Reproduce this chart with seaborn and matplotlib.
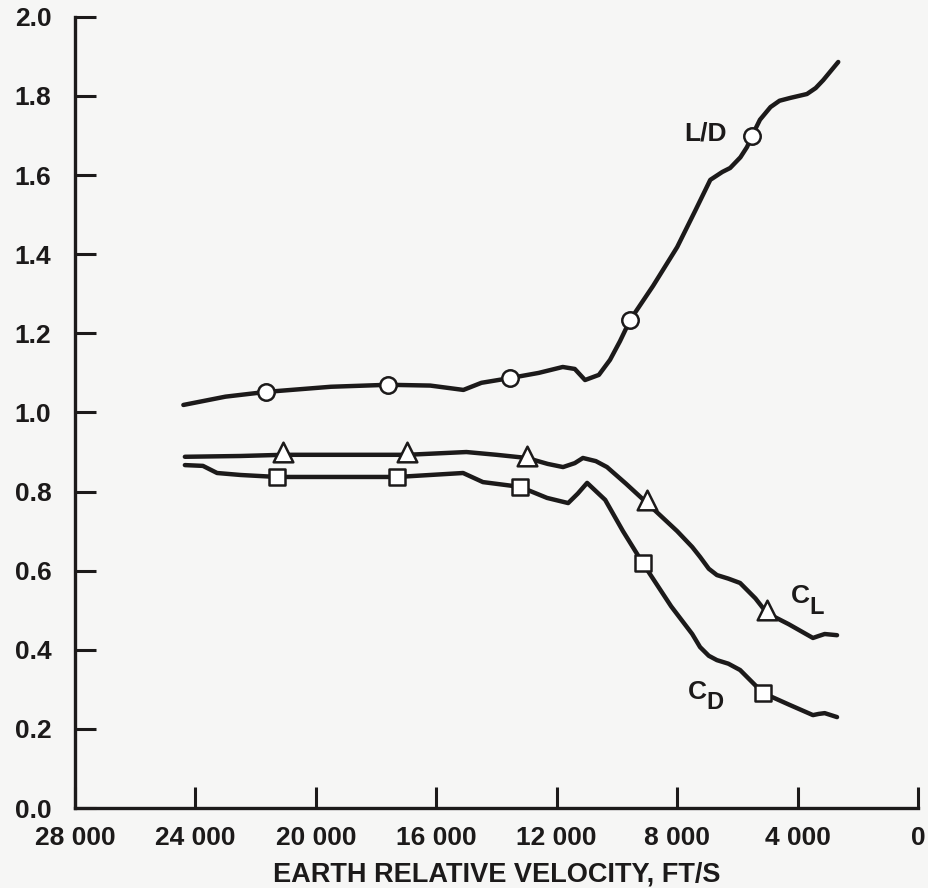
import matplotlib
matplotlib.use("Agg")
import matplotlib.pyplot as plt
import seaborn as sns
import pandas as pd

sns.set_theme(style="ticks")
plt.rcParams['font.family'] = ['Liberation Sans', 'DejaVu Sans']
plt.rcParams['font.weight'] = 'bold'

# ---- data ----
ld_v = [24400, 23000, 21650, 19500, 17600, 16200, 15100, 14500, 13550, 12600, 11800,
        11400, 11060, 10600, 10230, 9900, 9560, 8800, 8000, 7400, 6900, 6500, 6240, 5900,
        5680, 5510, 5250, 4900, 4600, 4250, 3690, 3400, 3150, 2650]
ld_y = [1.019, 1.040, 1.052, 1.065, 1.070, 1.068, 1.057, 1.075, 1.087, 1.100, 1.115,
        1.110, 1.082, 1.095, 1.133, 1.180, 1.234, 1.320, 1.418, 1.510, 1.588, 1.608, 1.618, 1.645,
        1.671, 1.700, 1.740, 1.772, 1.788, 1.795, 1.805, 1.820, 1.840, 1.886]

cl_v = [24350, 22500, 21090, 19000, 16970, 15000, 14000, 12990, 12300, 11790, 11400,
        11130, 10700, 10330, 9700, 9000, 8000, 7500, 7240, 6950, 6680, 6300, 5910, 5400,
        5020, 4300, 3490, 3300, 3100, 2690]
cl_y = [0.888, 0.890, 0.893, 0.893, 0.893, 0.900, 0.893, 0.885, 0.870, 0.862, 0.872,
        0.885, 0.877, 0.862, 0.820, 0.771, 0.700, 0.660, 0.635, 0.605, 0.589, 0.580, 0.569, 0.530,
        0.493, 0.465, 0.430, 0.435, 0.440, 0.437]

cd_v = [24350, 23750, 23280, 22500, 21290, 19000, 17300, 15110, 14450, 13220, 12320,
        11620, 11300, 10990, 10390, 9800, 9140, 8200, 7500, 7240, 6950, 6680, 6300, 5910,
        5150, 4300, 3490, 3300, 3100, 2690]
cd_y = [0.867, 0.865, 0.847, 0.842, 0.837, 0.837, 0.837, 0.847, 0.824, 0.812, 0.784,
        0.771, 0.795, 0.822, 0.779, 0.700, 0.619, 0.510, 0.440, 0.407, 0.385, 0.374, 0.365, 0.349,
        0.291, 0.262, 0.235, 0.238, 0.240, 0.230]

ld_mk_v = [21650, 17600, 13550, 9560, 5510]
ld_mk_y = [1.052, 1.070, 1.087, 1.234, 1.700]
cl_mk_v = [21090, 16970, 12990, 9000, 5020]
cl_mk_y = [0.900, 0.900, 0.890, 0.780, 0.500]
cd_mk_v = [21290, 17300, 13220, 9140, 5150]
cd_mk_y = [0.837, 0.837, 0.812, 0.619, 0.291]

x_ticks = [28000, 24000, 20000, 16000, 12000, 8000, 4000, 0]
x_tick_labels = ["28 000", "24 000", "20 000", "16 000", "12 000", "8 000", "4 000", "0"]
y_ticks = [0.0, 0.2, 0.4, 0.6, 0.8, 1.0, 1.2, 1.4, 1.6, 1.8, 2.0]
y_tick_labels = ["0.0", "0.2", "0.4", "0.6", "0.8", "1.0", "1.2", "1.4", "1.6", "1.8", "2.0"]

x_label = "EARTH RELATIVE VELOCITY, FT/S"

# ---- figure ----
bg = "#f6f6f5"
ink = "#1c1a1a"
fig = plt.figure(figsize=(9.29, 8.88), dpi=100, facecolor=bg)
ax = fig.add_axes([0.0807, 0.090, 0.9075, 0.891])
ax.set_facecolor(bg)

lw = 3.2
for v, y in [(ld_v, ld_y), (cl_v, cl_y), (cd_v, cd_y)]:
    df = pd.DataFrame({"v": v, "y": y})
    sns.lineplot(data=df, x="v", y="y", ax=ax, color=ink, linewidth=lw,
                 sort=False, estimator=None, solid_capstyle="round",
                 solid_joinstyle="round", zorder=2)

for v, y, m, s in [(ld_mk_v, ld_mk_y, "o", 140), (cl_mk_v, cl_mk_y, "^", 200),
                   (cd_mk_v, cd_mk_y, "s", 130)]:
    df = pd.DataFrame({"v": v, "y": y})
    sns.scatterplot(data=df, x="v", y="y", ax=ax, marker=m, s=s,
                    facecolor="white", edgecolor=ink, linewidth=1.8, zorder=3)

fs = 19
ax.set_xlim(28000, 0)
ax.set_ylim(0, 2.0)
ax.set_xticks(x_ticks)
ax.set_xticklabels(x_tick_labels)
ax.set_yticks(y_ticks)
ax.set_yticklabels(y_tick_labels)
ax.tick_params(axis="both", direction="in", length=15, width=2.2, color=ink,
               labelsize=fs, labelcolor=ink)
ax.tick_params(axis="y", pad=17)
ax.tick_params(axis="x", pad=13)
for lab in ax.get_xticklabels() + ax.get_yticklabels():
    lab.set_fontweight("bold")

sns.despine(ax=ax)
for sp in ["left", "bottom"]:
    ax.spines[sp].set_linewidth(2.4)
    ax.spines[sp].set_color(ink)

ax.set_xlabel(x_label, fontsize=19.5, fontweight="bold", color=ink, labelpad=8)
ax.set_ylabel("")

# curve labels
ax.text(7075, 1.704, "L/D", fontsize=fs, fontweight="bold", color=ink,
        ha="center", va="center")
ax.text(3600, 0.536, "C", fontsize=fs, fontweight="bold", color=ink,
        ha="right", va="center")
ax.text(3620, 0.508, "L", fontsize=17, fontweight="bold", color=ink,
        ha="left", va="center")
ax.text(7000, 0.293, "C", fontsize=fs, fontweight="bold", color=ink,
        ha="right", va="center")
ax.text(7020, 0.268, "D", fontsize=17, fontweight="bold", color=ink,
        ha="left", va="center")

fig.savefig("out.png", dpi=100, facecolor=bg)
